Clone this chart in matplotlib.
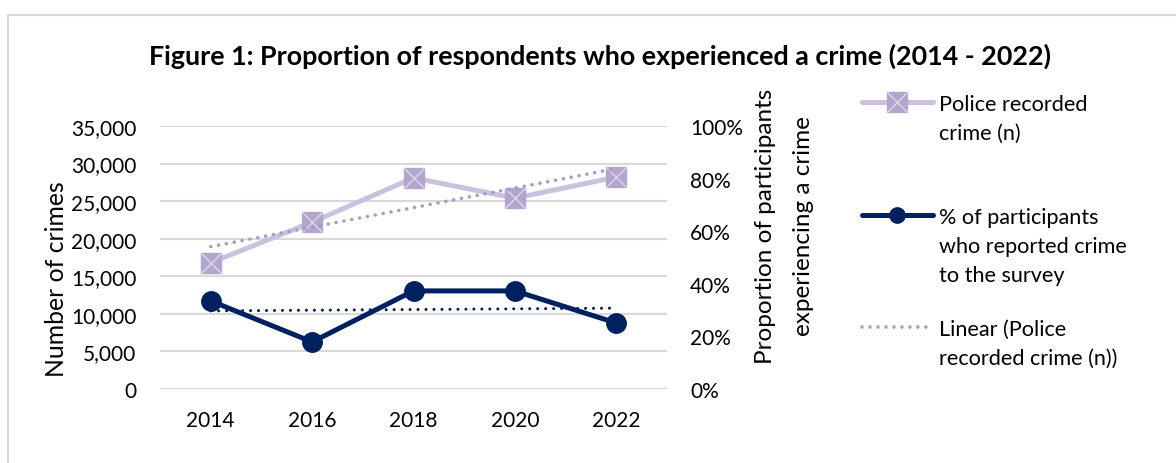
import numpy as np
import matplotlib
matplotlib.use('Agg')
import matplotlib.pyplot as plt
from matplotlib.lines import Line2D
from matplotlib.ticker import FuncFormatter

plt.rcParams['font.family'] = ['Lato', 'DejaVu Sans']

# survey years and the two series
years = ['2014', '2016', '2018', '2020', '2022']
police_crimes = [16800, 22200, 28100, 25400, 28200]      # police recorded crime (n)
pct_reported = [0.335, 0.179, 0.373, 0.373, 0.251]        # share of participants reporting crime

title = 'Figure 1: Proportion of respondents who experienced a crime (2014 - 2022)'
legend_labels = ['Police recorded\ncrime (n)',
                 '% of participants\nwho reported crime\nto the survey',
                 'Linear (Police\nrecorded crime (n))']

light_purple = '#CBC1DE'
marker_purple = '#B3A6CC'
cross_purple = '#DDD6EA'
trend_purple = '#A99BC9'
navy = '#002060'
grid_grey = '#D9D9D9'

W, H = 1176, 464


def fx(x):
    return x / W


def fy(y):
    return 1 - y / H


fig = plt.figure(figsize=(W / 100, H / 100), dpi=100)
ax = fig.add_axes([fx(160), fy(390), 507 / W, 263 / H])
ax2 = ax.twinx()

x = np.arange(len(years))

# linear trend lines (Excel style) fitted to each series
pc_fit = np.polyval(np.polyfit(x, police_crimes, 1), x)
pct_fit = np.polyval(np.polyfit(x, pct_reported, 1), x)

ax.plot(x, police_crimes, color=light_purple, lw=3.6, solid_capstyle='round', zorder=3)
ax.plot(x, police_crimes, ls='none', marker='s', ms=15, color=marker_purple, mec=marker_purple, zorder=4)
ax.plot(x, police_crimes, ls='none', marker='x', ms=14, color=cross_purple, mew=1.0, zorder=5)
ax.plot(x, pc_fit, color=trend_purple, lw=2.6, ls=(0, (0.01, 2.2)), dash_capstyle='round', zorder=6)

ax2.plot(x, pct_fit, color=navy, lw=2.2, ls=(0, (0.01, 2.6)), dash_capstyle='round', zorder=2)
ax2.plot(x, pct_reported, color=navy, lw=3.6, marker='o', ms=14, solid_capstyle='round', zorder=3)

ax.set_xlim(-0.5, 4.5)
ax.set_ylim(0, 35000)
ax2.set_ylim(0, 1)
ax.set_xticks(x)
ax.set_xticklabels(years)
ax.set_yticks(np.arange(0, 35001, 5000))
ax.yaxis.set_major_formatter(FuncFormatter(lambda v, p: f'{v:,.0f}'))
ax2.set_yticks(np.arange(0, 1.01, 0.2))
ax2.yaxis.set_major_formatter(FuncFormatter(lambda v, p: f'{v * 100:.0f}%'))

ax.grid(axis='y', color=grid_grey, lw=1.5)
ax.set_axisbelow(True)
for a in (ax, ax2):
    for s in a.spines.values():
        s.set_visible(False)
ax.tick_params(axis='y', length=0, pad=17, labelsize=15)
ax.tick_params(axis='x', length=0, pad=15, labelsize=15)
ax2.tick_params(axis='y', length=0, pad=16.5, labelsize=15)

fig.text(fx(600), fy(65), title, ha='center', va='baseline', fontsize=19.4, fontweight='bold')
fig.text(fx(57), fy(279), 'Number of crimes', rotation=90, ha='center', va='center', fontsize=17.8)
fig.text(fx(785), fy(226), 'Proportion of participants\nexperiencing a crime', rotation=90,
         ha='center', va='center', multialignment='center', fontsize=17.5, linespacing=2.0)

# legend drawn by hand so each key sits on the first line of its label
keys_y = [103, 216, 328]
text_top = [95, 208, 320]
fig.add_artist(Line2D([fx(862), fx(933)], [fy(keys_y[0])] * 2, color=light_purple, lw=3.6,
                      solid_capstyle='round'))
fig.add_artist(Line2D([fx(897)], [fy(keys_y[0])], marker='s', ms=15, color=marker_purple, ls='none'))
fig.add_artist(Line2D([fx(897)], [fy(keys_y[0])], marker='x', ms=14, mew=1.0, color=cross_purple, ls='none'))
fig.add_artist(Line2D([fx(862), fx(933)], [fy(keys_y[1])] * 2, color=navy, lw=3.6,
                      solid_capstyle='round'))
fig.add_artist(Line2D([fx(897)], [fy(keys_y[1])], marker='o', ms=11, color=navy, ls='none'))
fig.add_artist(Line2D([fx(862), fx(933)], [fy(keys_y[2])] * 2, color=trend_purple, lw=2.6,
                      ls=(0, (0.01, 2.2)), dash_capstyle='round'))
for lab, yt in zip(legend_labels, text_top):
    fig.text(fx(939), fy(yt), lab, ha='left', va='top', fontsize=15.6, linespacing=1.55)

# chart frame
fig.add_artist(Line2D([fx(8), 1], [fy(16)] * 2, color=grid_grey, lw=1.5))
fig.add_artist(Line2D([fx(8)] * 2, [fy(16), 0], color=grid_grey, lw=1.5))

fig.savefig('out.png', dpi=100)
